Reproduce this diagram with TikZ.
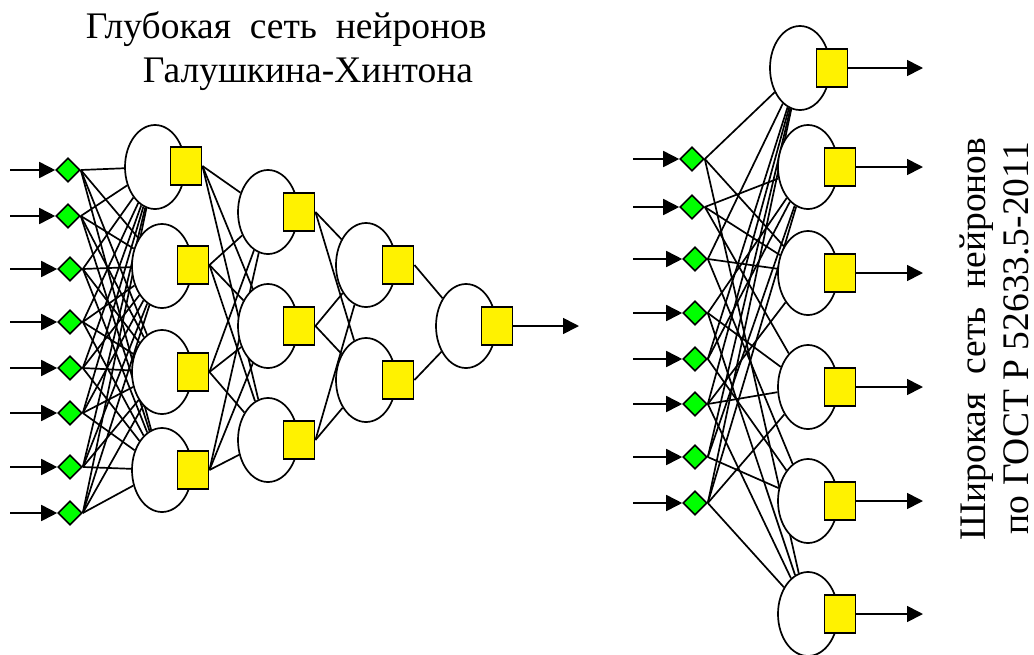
\documentclass[tikz,border=0pt]{standalone}
\usepackage{fontspec}
\setmainfont{Liberation Serif}
\usetikzlibrary{shapes.geometric,arrows.meta,backgrounds}
\begin{document}
\begin{tikzpicture}[x=1pt,y=-1pt,line width=1.7pt,
  neuron/.style={ellipse,draw,fill=white,minimum width=60pt,minimum height=84pt,inner sep=0pt,line width=1.7pt},
  outbox/.style={rectangle,draw,fill=yellow,minimum width=31pt,minimum height=38pt,inner sep=0pt,line width=1.9pt},
  inbox/.style={diamond,draw,fill=green,minimum width=24pt,minimum height=24pt,inner sep=0pt,line width=1.6pt},
  wire/.style={line width=1.7pt},
  feed/.style={wire,-{Triangle[length=16pt,width=16pt]}},
  caption/.style={font=\fontsize{37.5}{44}\selectfont,inner sep=0pt}]
\useasboundingbox (0,0) rectangle (1034,654);

% ---- deep network: inputs ----
\foreach \k/\x/\y in {1/68/170,2/68/216,3/70/269,4/70/322,5/70/368,6/70/413,7/70/467,8/70/513}{
  \node[inbox] (a\k) at (\x,\y) {};
  \coordinate (ai\k) at (10,\y);
}
% layer 1
\foreach \k/\y in {1/167,2/266,3/372,4/470}{
  \node[neuron] (p\k) at ({\k==1 ? 155 : 162},\y) {};
}
\foreach \k/\y in {1/166,2/265,3/372,4/470}{
  \node[outbox] (q\k) at ({\k==1 ? 186 : 193},\y) {};
}
% layer 2
\foreach \k/\y in {1/212,2/326,3/440}{
  \node[neuron] (r\k) at (268,\y) {};
  \node[outbox] (s\k) at (299,\y) {};
}
% layer 3
\foreach \k/\y in {1/265,2/380}{
  \node[neuron] (t\k) at (366,\y) {};
  \node[outbox] (v\k) at (398,\y) {};
}
% layer 4
\node[neuron] (w1) at (466,326) {};
\node[outbox] (z1) at (497,326) {};
\coordinate (zo) at (579,326);

% ---- wide network ----
\foreach \k/\x/\y in {1/692/159,2/692/207,3/695/259,4/695/313,5/695/359,6/695/404,7/695/457,8/695/503}{
  \node[inbox] (b\k) at (\x,\y) {};
  \coordinate (bi\k) at (633,\y);
}
\foreach \k/\x/\y in {1/800/68,2/808/167,3/808/273,4/808/387,5/808/501,6/808/614}{
  \node[neuron] (u\k) at (\x,\y) {};
  \node[outbox] (m\k) at (\x+32,\y) {};
  \coordinate (mo\k) at (923,\y);
}

% ---- connectors (behind the nodes) ----
\begin{scope}[on background layer]
  \foreach \k in {1,...,8}{
    \draw[feed] (ai\k) -- (a\k.west);
    \draw[feed] (bi\k) -- (b\k.west);
    \foreach \j in {1,...,4}{ \draw[wire] (a\k.east) -- (p\j); }
  }
  \foreach \k in {1,...,4}{ \foreach \j in {1,2,3}{ \draw[wire] (q\k.east) -- (r\j); } }
  \foreach \k in {1,2,3}{ \foreach \j in {1,2}{ \draw[wire] (s\k.east) -- (t\j); } }
  \foreach \k in {1,2}{ \draw[wire] (v\k.east) -- (w1); }
  \draw[feed] (z1.east) -- (zo);
  \foreach \i/\j in {1/1,1/3,1/6,2/2,2/3,2/4,3/3,3/5,3/1,4/2,4/4,4/6,
                     5/1,5/2,5/5,6/4,6/1,6/6,6/3,7/5,7/1,7/2,8/4,8/6,8/1,8/2}{
    \draw[wire] (b\i.east) -- (u\j);
  }
  \foreach \k in {1,...,6}{ \draw[feed] (m\k.east) -- (mo\k); }
\end{scope}

% ---- captions ----
\node[caption,anchor=base west] (cap1) at (85,38) {Глубокая\ \ сеть\ \ нейронов};
\node[caption,anchor=base west] (cap2) at (142,82) {Галушкина-Хинтона};
\node[caption,anchor=base west,rotate=90] (cap3) at (985,541) {Широкая\ \ сеть\ \ нейронов};
\node[caption,anchor=base west,rotate=90] (cap4) at (1028,535) {по ГОСТ Р 52633.5-2011};
\end{tikzpicture}
\end{document}
